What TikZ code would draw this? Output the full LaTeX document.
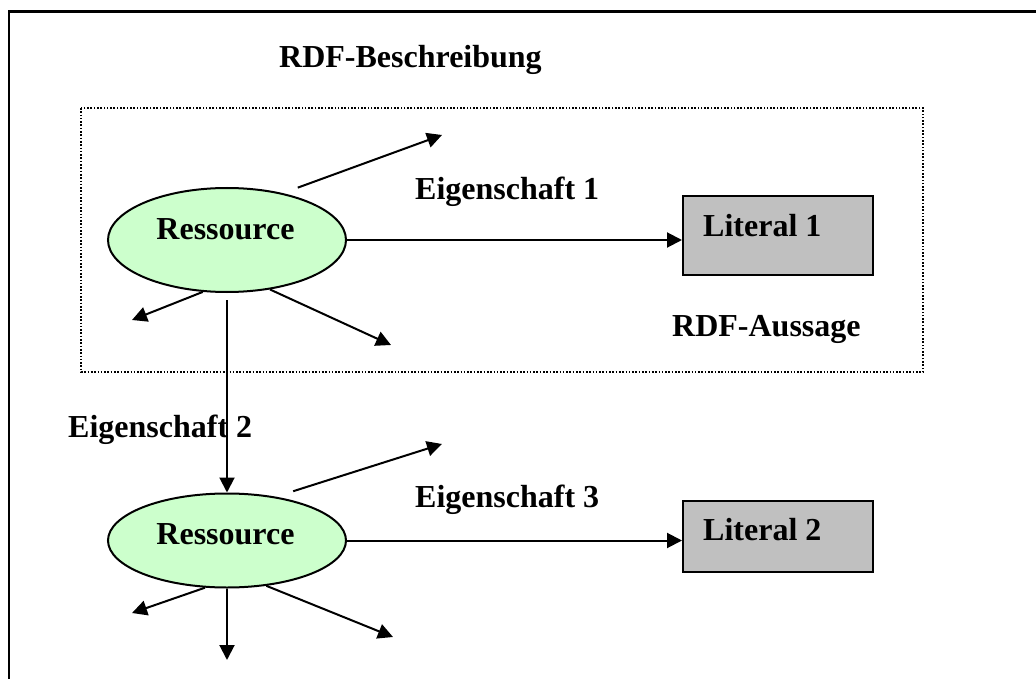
\documentclass[tikz,border=0pt]{standalone}
\usepackage{fontspec}
\setmainfont{Liberation Serif}
\usetikzlibrary{shapes.geometric,arrows.meta,calc}
\definecolor{resgreen}{HTML}{CCFFCC}
\definecolor{litgray}{HTML}{C0C0C0}
\begin{document}
\begin{tikzpicture}[x=1pt,y=-1pt,
  txt/.style={font=\fontsize{32}{38}\selectfont\bfseries, inner sep=0pt, anchor=base west},
  res/.style={ellipse, draw, line width=2pt, fill=resgreen, minimum width=238pt, inner sep=0pt},
  lit/.style={rectangle, draw, line width=2pt, fill=litgray, minimum width=190pt, inner sep=0pt},
  link/.style={line width=2pt, -{Triangle[length=15pt,width=15pt]}},
  frame/.style={line width=2.2pt},
  group/.style={line width=2pt, dash pattern=on 1.6pt off 1.7pt}]
\useasboundingbox (0,0) rectangle (1036,679);

% outer frame (top and left edges)
\coordinate (fTL) at (9,11.5);
\coordinate (fTR) at (1036,11.5);
\coordinate (fBL) at (9,679);
\draw[frame] (fTR) -- (fTL) -- (fBL);

% dotted group around the first statement
\draw[group] (81,108) rectangle (923,372);

% resources
\node[res, minimum height=104pt] (r1) at (227,240) {};
\node[res, minimum height=94pt] (r2) at (227,540.5) {};
\node[txt, anchor=base] (r1t) at (225.5,240) {Ressource};
\node[txt, anchor=base] (r2t) at (225.5,544) {Ressource};

% literals
\node[lit, minimum height=78pt] (l1) at (778,235.5) {};
\node[lit, minimum height=71pt] (l2) at (778,536) {};
\node[txt] (l1t) at ($(l1.north west)+(21,41)$) {Literal 1};
\node[txt] (l2t) at ($(l2.north west)+(21,41)$) {Literal 2};

% labels
\node[txt] (title) at (279,68) {RDF-Beschreibung};
\node[txt] (stmt) at (672,336) {RDF-Aussage};
\node[txt] (p1) at (415,200) {Eigenschaft 1};
\node[txt] (p2) at (68,437) {Eigenschaft 2};
\node[txt] (p3) at (415,507) {Eigenschaft 3};

% open ends of the unnamed properties
\coordinate (a1) at (442,135);
\coordinate (a2) at (132,320);
\coordinate (a3) at (391,345);
\coordinate (b1) at (442,444);
\coordinate (b2) at (132,613);
\coordinate (b3) at (227,660);
\coordinate (b4) at (393,637);

% named properties (horizontal into the literals)
\draw[link] (r1.east) -- (r1.east -| l1.west);
\draw[link] (r2.east) -- (r2.east -| l2.west);
\draw[link, shorten <=7pt] (r1.south) -- (r2.north);

% further properties of the first resource
\draw[link] ([shift={(5,-8)}]r1.34) -- (a1);
\draw[link] (r1.245) -- (a2);
\draw[link] (r1.311) -- (a3);

% further properties of the second resource
\draw[link] ([shift={(5,-8)}]r2.34) -- (b1);
\draw[link] (r2.245) -- (b2);
\draw[link] (r2.south) -- (b3);
\draw[link] (r2.311) -- (b4);
\end{tikzpicture}
\end{document}
